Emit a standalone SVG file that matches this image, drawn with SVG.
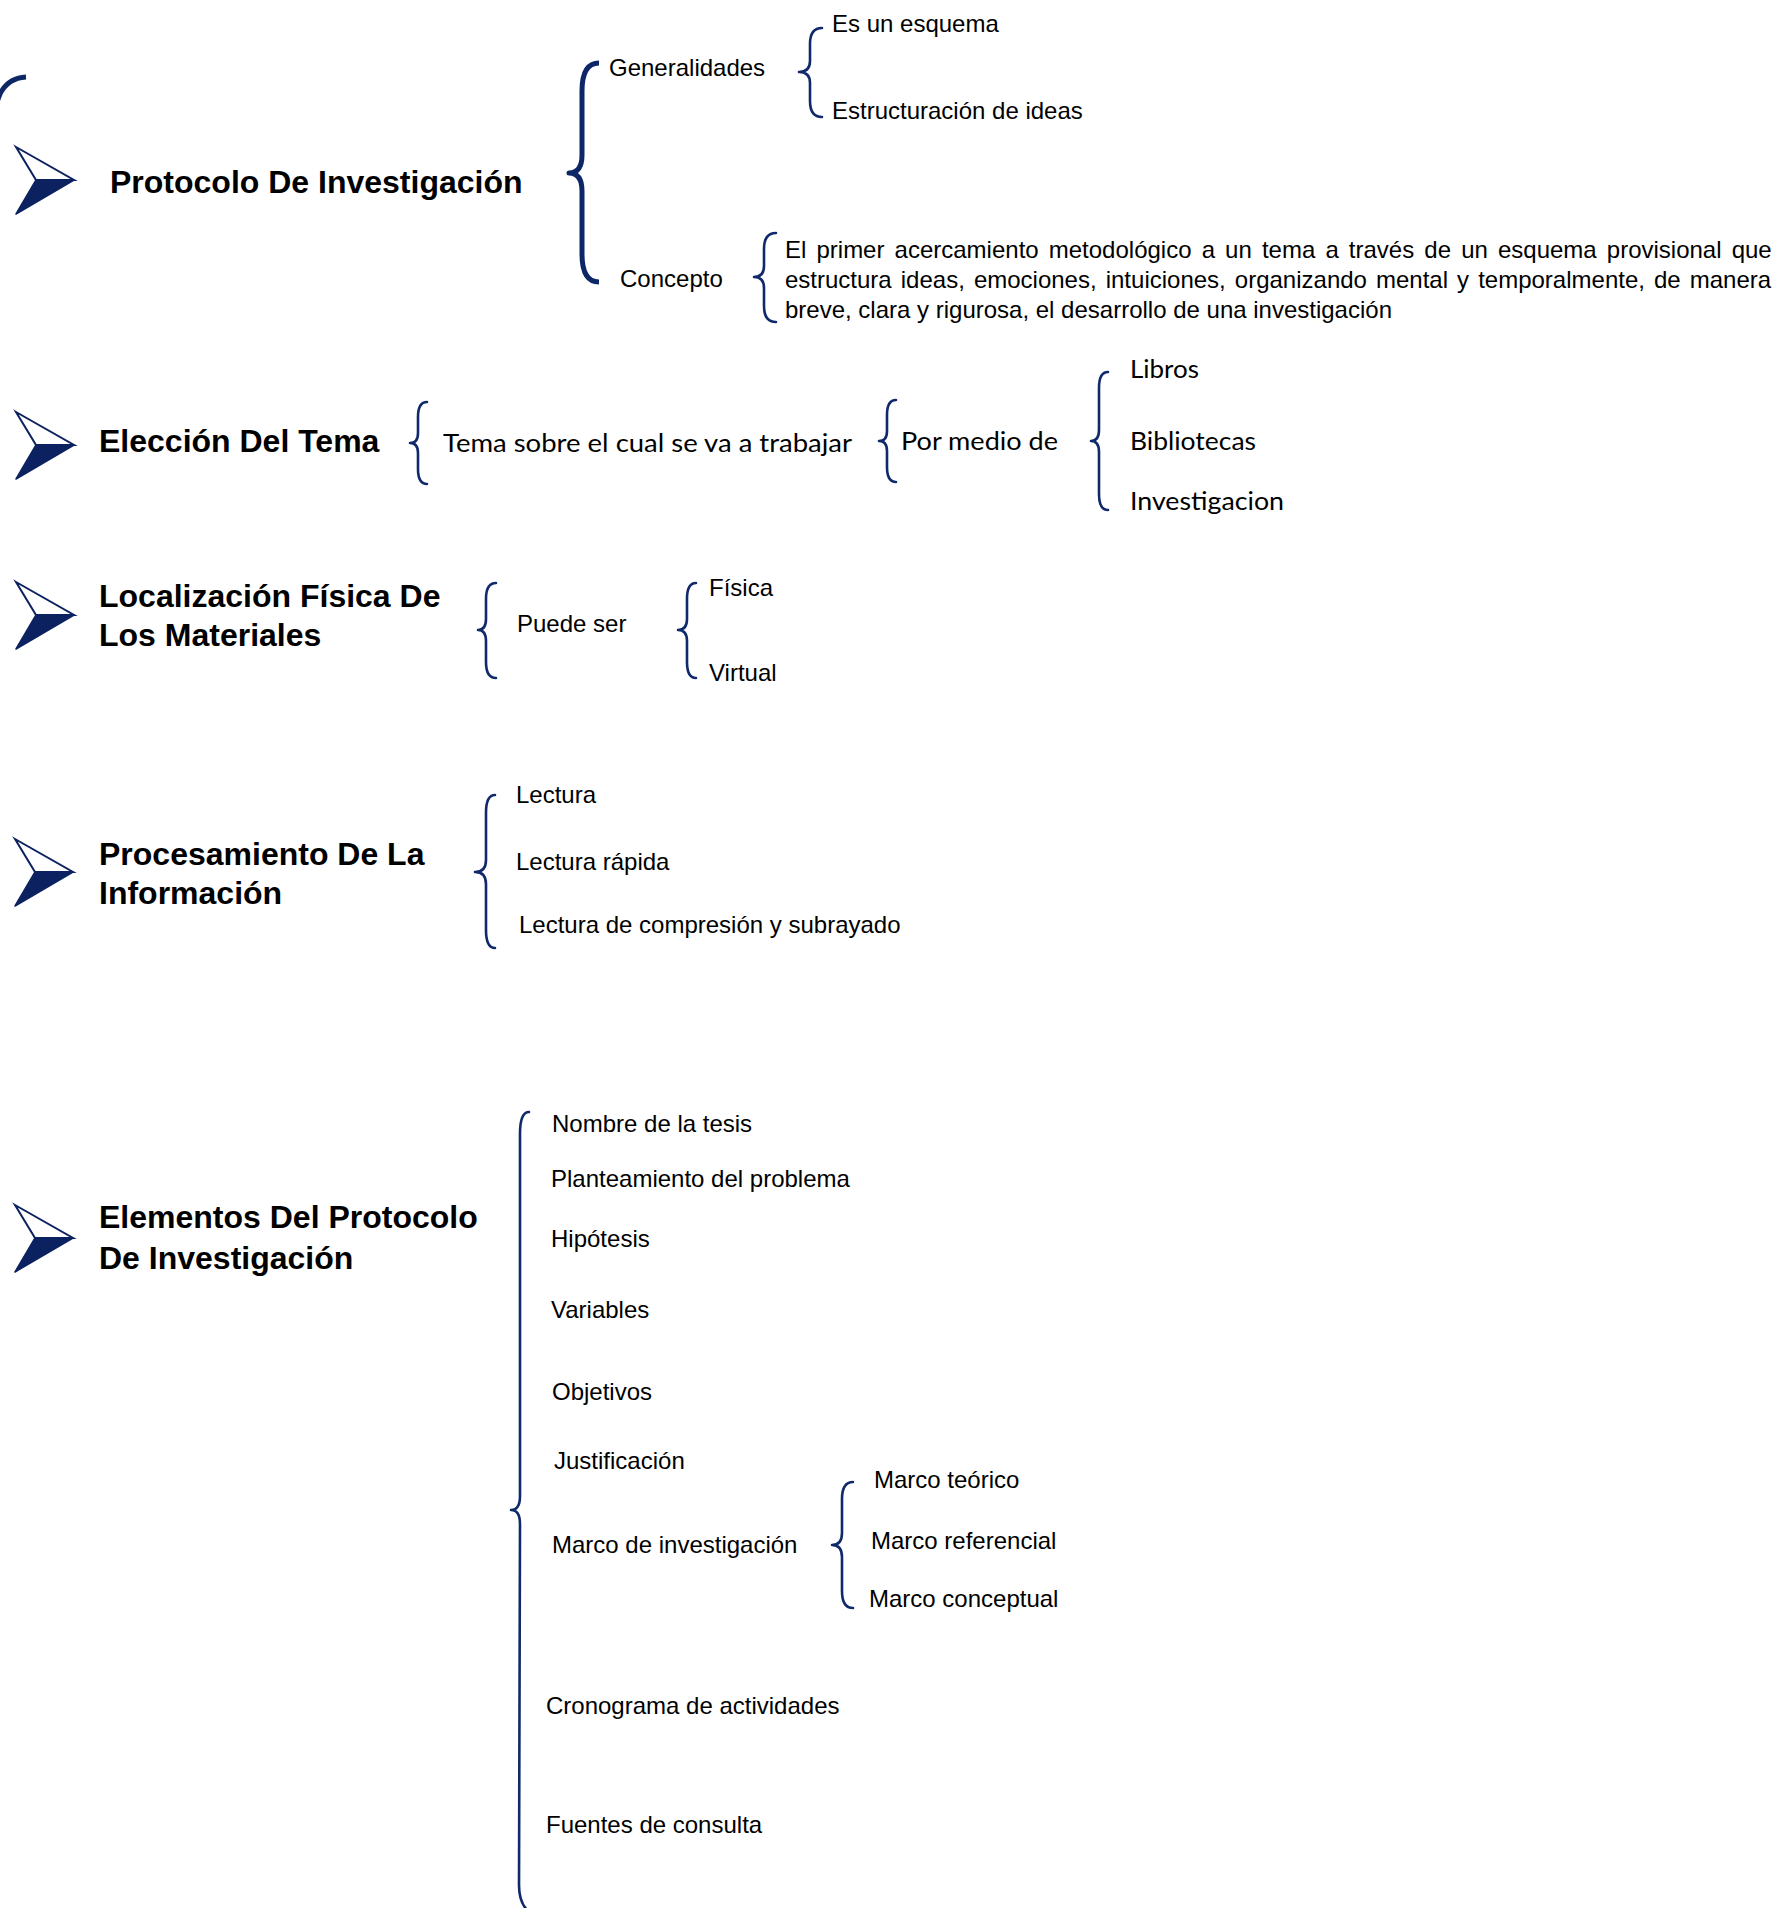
<svg xmlns="http://www.w3.org/2000/svg" xmlns:xlink="http://www.w3.org/1999/xlink" width="1779" height="1908" viewBox="0 0 1779 1908">
<style>
.t{font-family:"Liberation Sans",Arial,sans-serif;font-size:24px;fill:#000}
.h{font-family:"Liberation Sans",Arial,sans-serif;font-size:32px;font-weight:bold;fill:#000}
.c{font-family:Lato,"Open Sans",sans-serif;font-size:25px;fill:#000}
.br{fill:none;stroke:#10296a;stroke-width:2.6;stroke-linecap:round;stroke-linejoin:round}
.bb{fill:none;stroke:#0d2766;stroke-width:5;stroke-linejoin:round}
</style>
<defs>
<g id="arrow">
<polygon points="0,0 58,33 20,33" fill="#fff" stroke="#0c2260" stroke-width="2"/>
<polygon points="20,33 58,33 0,67" fill="#0c2260" stroke="#0c2260" stroke-width="1.5" stroke-linejoin="round"/>
</g>
</defs>
<rect width="1779" height="1908" fill="#fff"/>

<g id="connectors">
<path class="bb" d="M26,77 Q8,78 0,94 L-3,102"/>
<path class="bb" d="M599,63 Q582,63 582,91 L582,155 Q582,173 569,173 Q582,173 582,191 L582,254 Q582,282 599,282"/>
<path class="br" d="M822,28 Q810,28 810,44 L810,61 Q810,72 799,72 Q810,72 810,83 L810,101 Q810,117 822,117"/>
<path class="br" d="M776,233 Q764,233 764,249 L764,266 Q764,277 754,277 Q764,277 764,288 L764,306 Q764,322 776,322"/>
<path class="br" d="M427,402 Q418,402 418,417 L418,433 Q418,443 410,443 Q418,443 418,453 L418,469 Q418,484 427,484"/>
<path class="br" d="M896,400 Q887,400 887,415 L887,431 Q887,441 879,441 Q887,441 887,451 L887,467 Q887,482 896,482"/>
<path class="br" d="M1108,372 Q1099,372 1099,388 L1099,430 Q1099,441 1091,441 Q1099,441 1099,452 L1099,494 Q1099,510 1108,510"/>
<path class="br" d="M496,583 Q486,583 486,599 L486,619 Q486,630 478,630 Q486,630 486,641 L486,662 Q486,678 496,678"/>
<path class="br" d="M696,583 Q687,583 687,599 L687,619 Q687,630 678,630 Q687,630 687,641 L687,662 Q687,678 696,678"/>
<path class="br" d="M495,795 Q486,795 486,813 L486,860 Q486,872 475,872 Q486,872 486,884 L486,930 Q486,948 495,948"/>
<path class="br" d="M529,1112 Q520,1112 520,1134 L520,1496 Q520,1510 511,1510 Q520,1510 520,1524 L519,1885 Q519,1906 532,1914"/>
<path class="br" d="M853,1482 Q842,1482 842,1499 L842,1533 Q842,1545 832,1545 Q842,1545 842,1557 L842,1591 Q842,1608 853,1608"/>
</g>

<g id="node-protocolo">
<use xlink:href="#arrow" href="#arrow" x="16" y="147"/>
<text class="h" x="110" y="193">Protocolo De Investigación</text>
</g>
<g id="node-generalidades">
<text class="t" x="609" y="76">Generalidades</text>
</g>
<g id="node-es-un-esquema"><text class="t" x="832" y="32">Es un esquema</text></g>
<g id="node-estructuracion"><text class="t" x="832" y="119">Estructuración de ideas</text></g>
<g id="node-concepto"><text class="t" x="620" y="287">Concepto</text></g>
<g id="node-definicion">
<text class="t" x="785" y="258" style="word-spacing:3.45px">El primer acercamiento metodológico a un tema a través de un esquema provisional que</text>
<text class="t" x="785" y="288" style="word-spacing:2.4px">estructura ideas, emociones, intuiciones, organizando mental y temporalmente, de manera</text>
<text class="t" x="785" y="318">breve, clara y rigurosa, el desarrollo de una investigación</text>
</g>

<g id="node-eleccion">
<use xlink:href="#arrow" href="#arrow" x="16" y="412"/>
<text class="h" x="99" y="452">Elección Del Tema</text>
</g>
<g id="node-tema"><text class="c" x="443" y="452" textLength="409" lengthAdjust="spacingAndGlyphs">Tema sobre el cual se va a trabajar</text></g>
<g id="node-por-medio"><text class="c" x="901" y="450" textLength="157" lengthAdjust="spacingAndGlyphs">Por medio de</text></g>
<g id="node-libros"><text class="c" x="1130" y="378" textLength="69" lengthAdjust="spacingAndGlyphs">Libros</text></g>
<g id="node-bibliotecas"><text class="c" x="1130" y="450" textLength="126" lengthAdjust="spacingAndGlyphs">Bibliotecas</text></g>
<g id="node-investigacion"><text class="c" x="1130" y="510" textLength="154" lengthAdjust="spacingAndGlyphs">Investigacion</text></g>

<g id="node-localizacion">
<use xlink:href="#arrow" href="#arrow" x="16" y="582"/>
<text class="h" x="99" y="607">Localización Física De</text>
<text class="h" x="99" y="646">Los Materiales</text>
</g>
<g id="node-puede-ser"><text class="t" x="517" y="632">Puede ser</text></g>
<g id="node-fisica"><text class="t" x="709" y="596">Física</text></g>
<g id="node-virtual"><text class="t" x="709" y="681">Virtual</text></g>

<g id="node-procesamiento">
<use xlink:href="#arrow" href="#arrow" x="15" y="839"/>
<text class="h" x="99" y="865">Procesamiento De La</text>
<text class="h" x="99" y="904">Información</text>
</g>
<g id="node-lectura"><text class="t" x="516" y="803">Lectura</text></g>
<g id="node-lectura-rapida"><text class="t" x="516" y="870">Lectura rápida</text></g>
<g id="node-lectura-comp"><text class="t" x="519" y="933">Lectura de compresión y subrayado</text></g>

<g id="node-elementos">
<use xlink:href="#arrow" href="#arrow" x="15" y="1205"/>
<text class="h" x="99" y="1228">Elementos Del Protocolo</text>
<text class="h" x="99" y="1269">De Investigación</text>
</g>
<g id="node-nombre"><text class="t" x="552" y="1132">Nombre de la tesis</text></g>
<g id="node-planteamiento"><text class="t" x="551" y="1187">Planteamiento del problema</text></g>
<g id="node-hipotesis"><text class="t" x="551" y="1247">Hipótesis</text></g>
<g id="node-variables"><text class="t" x="551" y="1318">Variables</text></g>
<g id="node-objetivos"><text class="t" x="552" y="1400">Objetivos</text></g>
<g id="node-justificacion"><text class="t" x="554" y="1469">Justificación</text></g>
<g id="node-marco"><text class="t" x="552" y="1553">Marco de investigación</text></g>
<g id="node-marco-teorico"><text class="t" x="874" y="1488">Marco teórico</text></g>
<g id="node-marco-referencial"><text class="t" x="871" y="1549">Marco referencial</text></g>
<g id="node-marco-conceptual"><text class="t" x="869" y="1607">Marco conceptual</text></g>
<g id="node-cronograma"><text class="t" x="546" y="1714">Cronograma de actividades</text></g>
<g id="node-fuentes"><text class="t" x="546" y="1833">Fuentes de consulta</text></g>
</svg>
